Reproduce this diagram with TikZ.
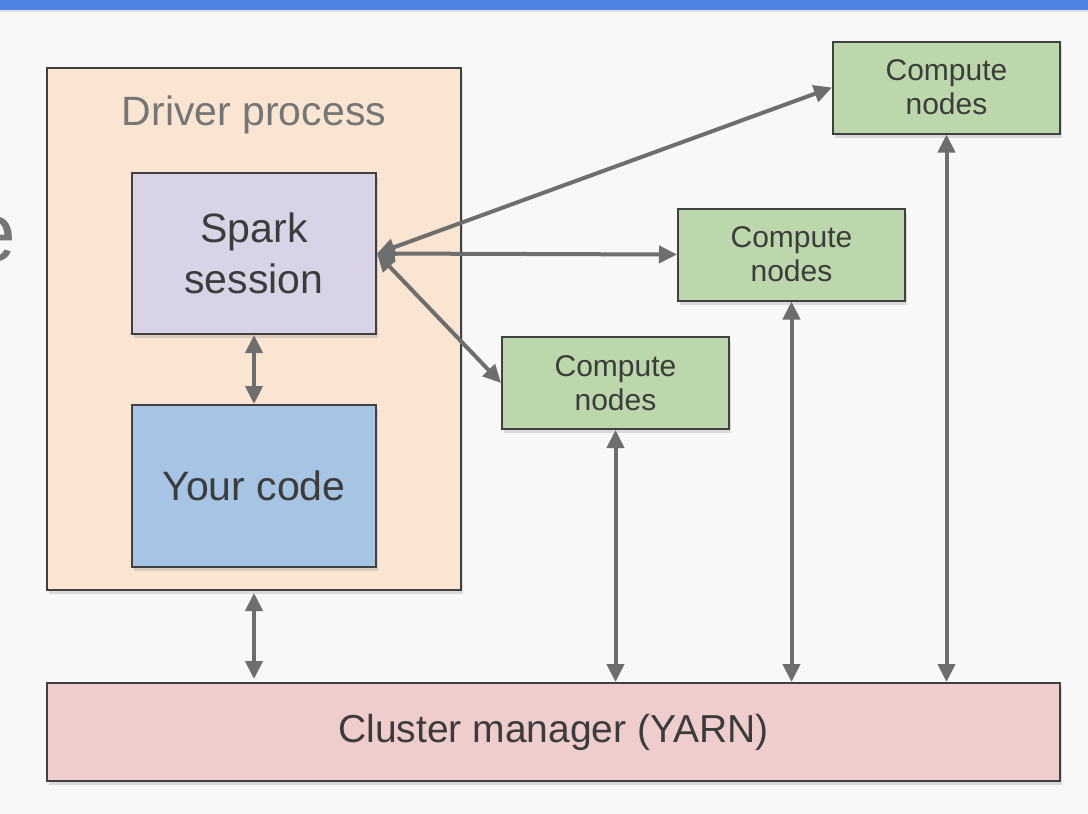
\documentclass[tikz,border=0pt]{standalone}
\usepackage{fontspec}
\setmainfont{Liberation Sans}
\usetikzlibrary{positioning,arrows.meta,shadows}

\definecolor{bgcol}{HTML}{F8F8F8}
\definecolor{barcol}{HTML}{5083E6}
\definecolor{edge}{HTML}{404040}
\definecolor{ink}{HTML}{3C3C3C}
\definecolor{dim}{HTML}{767676}
\definecolor{arrcol}{HTML}{6E6E6E}
\definecolor{driverfill}{HTML}{FAE5D2}
\definecolor{sparkfill}{HTML}{D9D3E8}
\definecolor{codefill}{HTML}{A6C4E4}
\definecolor{nodefill}{HTML}{BCD7AB}
\definecolor{clusterfill}{HTML}{EFCDCC}

\begin{document}
\begin{tikzpicture}[x=0.5pt,y=-0.5pt,
			box/.style={rectangle, draw=edge, line width=1pt, inner sep=0, align=center, text=ink,
				drop shadow={shadow xshift=1pt, shadow yshift=-2pt, opacity=0.25}},
			big/.style={font=\fontsize{20.5}{25.5}\selectfont},
			small/.style={font=\fontsize{15}{17}\selectfont},
			compute/.style={box, small, fill=nodefill, minimum width=113.5pt, minimum height=46pt},
			arrow/.style={draw=arrcol, line width=2pt, {Triangle[length=9pt,width=8.5pt]}-{Triangle[length=9pt,width=8.5pt]}}]

			\useasboundingbox (0,0) rectangle (1088,814);
			\fill[bgcol] (0,0) rectangle (1088,814);
			\fill[barcol] (0,0) rectangle (1088,10);
			\fill[black!12] (0,10) rectangle (1088,12);
			\node[anchor=base east, inner sep=0, text=dim, font=\fontsize{42}{42}\selectfont] (ttl) at (17,261) {e};

			\node[box, fill=driverfill, minimum width=207pt, minimum height=261pt] (driver) at (254,329) {};
			\node[big, text=dim, inner sep=0] (dlabel) at (254,115) {Driver process};
			\node[box, big, fill=sparkfill, minimum width=122pt, minimum height=80.5pt] (spark) at (254,253.5) {Spark\\session};
			\node[box, big, fill=codefill, minimum width=122pt, minimum height=81pt] (code) at (254,486) {Your code};

			\node[compute] (cn1) at (615.5,383) {Compute\\nodes};
			\node[compute] (cn2) at (791.5,254.5) {Compute\\nodes};
			\node[compute] (cn3) at (946.5,87.5) {Compute\\nodes};

			\node[box, fill=clusterfill, minimum width=506.5pt, minimum height=49pt,
				font=\fontsize{19.5}{24}\selectfont] (cm) at (553.5,732) {Cluster manager (YARN)};

			\draw[arrow] (spark.south) -- (code.north);
			\draw[arrow] (spark.east) -- (cn1.west);
			\draw[arrow] (spark.east) -- (cn2.west);
			\draw[arrow] (spark.east) -- (cn3.west);
			\draw[arrow] ([yshift=-1pt]driver.south) -- ([yshift=1.5pt]driver.south |- cm.north);
			\foreach \n in {cn1,cn2,cn3}
				\draw[arrow] (\n.south) -- (\n.south |- cm.north);
		\end{tikzpicture}
\end{document}
